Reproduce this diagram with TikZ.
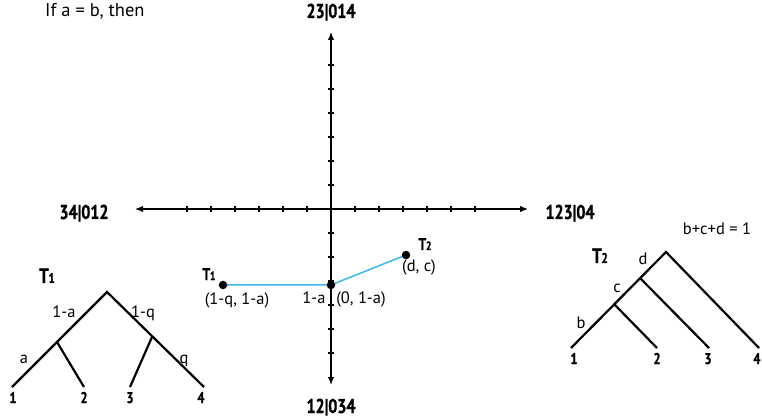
\documentclass[tikz,border=0pt]{standalone}
\usepackage{fontspec}
\setmainfont{PT Sans}
\newfontfamily\condb[FakeStretch=0.8,FakeBold=1]{PT Sans}
\usetikzlibrary{arrows.meta}
\definecolor{linecyan}{RGB}{60,185,235}
\begin{document}
\begin{tikzpicture}[x=1pt,y=-1pt,
  axis/.style={line width=1.3pt,{Latex[length=8pt,width=6.5pt]}-{Latex[length=8pt,width=6.5pt]}},
  tickmark/.style={line width=1.1pt},
  branch/.style={line width=2.2pt},
  dot/.style={circle,fill=black,inner sep=0pt,minimum size=8.5pt},
  lbl/.style={font=\fontsize{16.5}{18}\selectfont,inner sep=0pt,anchor=base},
  axlbl/.style={font=\condb\bfseries\fontsize{20}{22}\selectfont,inner sep=0pt,anchor=base},
  leaflbl/.style={font=\condb\bfseries\fontsize{15.5}{16}\selectfont,inner sep=0pt,anchor=base},
  tlbl/.style={font=\condb\bfseries\fontsize{21}{22}\selectfont,inner sep=0pt,anchor=base},
  seg/.style={linecyan,line width=1.5pt}
]
\useasboundingbox (0,0) rectangle (762,419);
\clip (0,0) rectangle (762,419);

% heading
\node[lbl,anchor=base west,font=\fontsize{18.5}{20}\selectfont] (head) at (45,17) {If a = b, then};

% axes
\coordinate (O) at (331,209);
\coordinate (axL) at (135,209);
\coordinate (axR) at (528,209);
\coordinate (axT) at (331,32);
\coordinate (axB) at (331,385);
\draw[axis] (axL) -- (axR);
\draw[axis] (axT) -- (axB);
\foreach \k in {-6,...,-1,1,2,...,6}{
  \draw[tickmark] ({331+24*\k},206) -- ({331+24*\k},212);
  \draw[tickmark] (328,{209+24*\k}) -- (334,{209+24*\k});
}
\node[axlbl] (ltop) at (331,18) {23|014};
\node[axlbl] (lbot) at (331,413) {12|034};
\node[axlbl] (llef) at (84,219) {34|012};
\node[axlbl] (lrig) at (570,219) {123|04};

% path in the plane
\coordinate (c1) at (223,285);
\coordinate (c0) at (331,285);
\coordinate (c2) at (406,255);
\draw[seg] (c1) -- (c0) -- (c2);
\node[dot] (p1) at (c1) {};
\node[dot] (p0) at (c0) {};
\node[dot] (p2) at (c2) {};
\node[tlbl,font=\condb\bfseries\fontsize{17}{18}\selectfont] (pt1) at (209,280) {T\kern-0.3pt{\fontsize{12}{12}\selectfont 1}};
\node[tlbl,font=\condb\bfseries\fontsize{17}{18}\selectfont] (pt2) at (425,250) {T\kern-0.3pt{\fontsize{12}{12}\selectfont 2}};
\node[lbl] (q1) at (237,304) {(1-q, 1-a)};
\node[lbl] (q0a) at (314,303) {1-a};
\node[lbl] (q0) at (361,303) {(0, 1-a)};
\node[lbl] (q2) at (419,272) {(d, c)};

% tree T1
\coordinate (r1) at (107,292);
\coordinate (u1) at (57,342);
\coordinate (v1) at (152,337);
\coordinate (a1) at (12,387);
\coordinate (a2) at (84,387);
\coordinate (a3) at (130,387);
\coordinate (a4) at (204,387);
\draw[branch] (a1) -- (r1) -- (a4);
\draw[branch] (u1) -- (a2);
\draw[branch] (v1) -- (a3);
\node[tlbl] (t1) at (47,283) {T\kern-0.3pt{\fontsize{14}{14}\selectfont 1}};
\node[lbl] (e1) at (64,317) {1-a};
\node[lbl] (e2) at (143,317) {1-q};
\node[lbl] (e3) at (24,363) {a};
\node[lbl] (e4) at (184,363) {q};
\node[leaflbl] (n1) at (13,403) {1};
\node[leaflbl] (n2) at (84,403) {2};
\node[leaflbl] (n3) at (130,403) {3};
\node[leaflbl] (n4) at (201,403) {4};

% tree T2
\coordinate (r2) at (666,252);
\coordinate (d2) at (640,278);
\coordinate (c2n) at (614,304);
\coordinate (b1) at (571,348);
\coordinate (b2) at (657,348);
\coordinate (b3) at (709,348);
\coordinate (b4) at (759,348);
\draw[branch] (b1) -- (r2) -- (b4);
\draw[branch] (c2n) -- (b2);
\draw[branch] (d2) -- (b3);
\node[tlbl] (t2) at (600,263) {T\kern-0.3pt{\fontsize{14}{14}\selectfont 2}};
\node[lbl] (f1) at (643,265) {d};
\node[lbl] (f2) at (617,292) {c};
\node[lbl] (f3) at (581,328) {b};
\node[lbl] (sum) at (717,235) {b+c+d = 1};
\node[leaflbl] (m1) at (574,364) {1};
\node[leaflbl] (m2) at (657,364) {2};
\node[leaflbl] (m3) at (708,364) {3};
\node[leaflbl] (m4) at (757,364) {4};
\end{tikzpicture}
\end{document}
